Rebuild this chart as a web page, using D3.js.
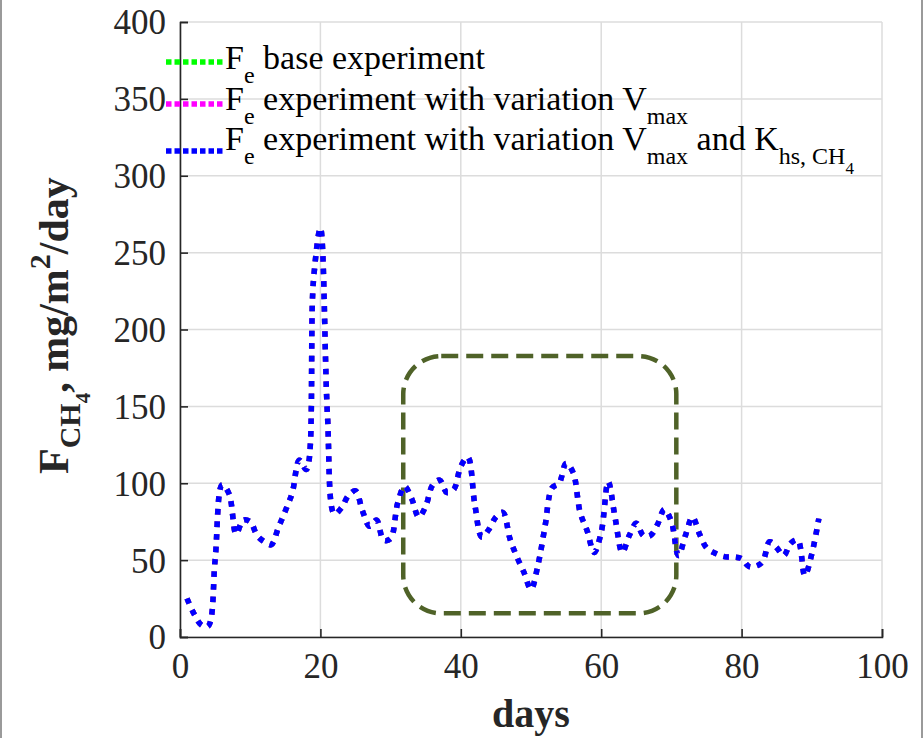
<!DOCTYPE html>
<html><head><meta charset="utf-8">
<script src="https://cdn.jsdelivr.net/npm/d3@7/dist/d3.min.js"></script>
<style>body{margin:0;background:#fff}svg{display:block}</style>
</head><body>
<svg id="chart" width="924" height="738"></svg>
<script>
// ---- data ----
const days = [1,2,3,4,5,6,7,8,9,10,11,12,13,14,15,16,17,18,19,20,
  21,22,23,24,25,26,27,28,29,30,31,32,33,34,35,36,37,38,39,40,
  41,42,43,44,45,46,47,48,49,50,51,52,53,54,55,56,57,58,59,60,
  61,62,63,64,65,66,67,68,69,70,71,72,73,74,75,76,77,78,79,80,
  81,82,83,84,85,86,87,88,89,90,91];
const fluxVmaxKhs = [25,15,8,7,50,99,93,67,76,75,66,62,60,71,82,94,115,109,231,266,
  145,80,84,92,95,82,72,76,63,64,87,98,90,78,85,99,102,94,96,111,
  117,86,65,70,78,81,64,52,42,31,47,72,97,100,113,107,81,69,55,68,
  101,77,55,66,74,66,66,73,83,75,53,66,78,67,58,55,53,52,52,51,
  46,46,49,62,58,53,61,63,40,54,77];
// the base and V_max experiments coincide with the blue curve (hidden beneath it)
const fluxBase = fluxVmaxKhs;
const fluxVmax = fluxVmaxKhs;
const xTicks = [0,20,40,60,80,100];
const yTicks = [0,50,100,150,200,250,300,350,400];
const highlight = {x0: 31.8, x1: 70.7, y0: 15.4, y1: 182.7}; // annotation box, data units

// ---- layout ----
const svg = d3.select('#chart');
const L = 180, R = 882, T = 22, B = 637;
const x = d3.scaleLinear().domain([0,100]).range([L,R]);
const y = d3.scaleLinear().domain([0,400]).range([B,T]);
const axisCol = '#262626';
const serif = "'Liberation Serif','Times New Roman',serif";

svg.append('rect').attr('width',924).attr('height',738).attr('fill','#fff');
// outer grey frame edges
svg.append('line').attr('x1',1).attr('x2',1).attr('y1',0).attr('y2',738).attr('stroke','#9a9a9a').attr('stroke-width',2);
svg.append('line').attr('x1',922).attr('x2',922).attr('y1',0).attr('y2',738).attr('stroke','#9a9a9a').attr('stroke-width',2);

// grid
const g = svg.append('g');
g.selectAll('.gx').data(xTicks).join('line')
  .attr('x1',d=>x(d)).attr('x2',d=>x(d)).attr('y1',T).attr('y2',B)
  .attr('stroke','#dcdcdc').attr('stroke-width',1.5);
g.selectAll('.gy').data(yTicks).join('line')
  .attr('y1',d=>y(d)).attr('y2',d=>y(d)).attr('x1',L).attr('x2',R)
  .attr('stroke','#dcdcdc').attr('stroke-width',1.5);

// axes via d3 axis
const xAxis = d3.axisBottom(x).tickValues(xTicks).tickSize(-8).tickPadding(16).tickFormat(d3.format('d'));
const yAxis = d3.axisLeft(y).tickValues(yTicks).tickSize(-8).tickPadding(14).tickFormat(d3.format('d'));
const gx = svg.append('g').attr('transform',`translate(0,${B})`).call(xAxis);
const gy = svg.append('g').attr('transform',`translate(${L},0)`).call(yAxis);
[gx,gy].forEach(a=>{
  a.select('.domain').attr('stroke',axisCol).attr('stroke-width',1.6);
  a.selectAll('.tick line').attr('stroke',axisCol).attr('stroke-width',1.6);
  a.selectAll('.tick text').attr('fill',axisCol).attr('font-family',serif).attr('font-size',35);
});
gx.selectAll('.tick text').attr('dy','0.71em');
gy.selectAll('.tick text').attr('dy','0.34em');

// highlight rounded box
svg.append('rect')
  .attr('x',x(highlight.x0)).attr('y',y(highlight.y1))
  .attr('width',x(highlight.x1)-x(highlight.x0)).attr('height',y(highlight.y0)-y(highlight.y1))
  .attr('rx',38).attr('ry',38)
  .attr('fill','none').attr('stroke','#4f6228').attr('stroke-width',4.5)
  .attr('stroke-dasharray','17 8');

// lines
const line = d3.line().x((d,i)=>x(days[i])).y(d=>y(d)).curve(d3.curveCatmullRom.alpha(0.5));
const series = [
  {vals: fluxBase, color:'#00ff00'},
  {vals: fluxVmax, color:'#ff00ff'},
  {vals: fluxVmaxKhs, color:'#0000ff'}
];
series.forEach(s=>{
  svg.append('path').datum(s.vals).attr('d',line)
    .attr('fill','none').attr('stroke',s.color).attr('stroke-width',5.5)
    .attr('stroke-dasharray','5.5 7');
});

// legend
const legY = [62,104,151];
const legBase = [69,110,150];
series.forEach((s,i)=>{
  svg.append('line').attr('x1',166).attr('x2',223).attr('y1',legY[i]).attr('y2',legY[i])
    .attr('stroke',s.color).attr('stroke-width',5.5).attr('stroke-dasharray','5.5 3');
});
function legText(i, parts){
  const t = svg.append('text').attr('x',225).attr('y',legBase[i])
    .attr('font-family',serif).attr('font-size',34).attr('fill','#000');
  parts.forEach(p=>{
    const ts = t.append('tspan').text(p.t);
    if(p.size) ts.attr('font-size',p.size);
    if(p.dy) ts.attr('dy',p.dy);
  });
}
legText(0,[{t:'F'},{t:'e',size:24,dy:14},{t:' base experiment',dy:-14}]);
legText(1,[{t:'F'},{t:'e',size:24,dy:14},{t:' experiment with variation V',dy:-14},{t:'max',size:24,dy:14}]);
legText(2,[{t:'F'},{t:'e',size:24,dy:14},{t:' experiment with variation V',dy:-14},{t:'max',size:24,dy:14},
  {t:' and K',dy:-14},{t:'hs, CH',size:24,dy:14},{t:'4',size:17,dy:10}]);

// axis titles
svg.append('text').attr('x',531).attr('y',727).attr('text-anchor','middle')
  .attr('font-family',serif).attr('font-weight','bold').attr('font-size',40).attr('fill',axisCol).text('days');
const yl = svg.append('text').attr('transform','translate(68,474) rotate(-90)')
  .attr('font-family',serif).attr('font-weight','bold').attr('font-size',42).attr('fill',axisCol);
yl.append('tspan').text('F');
yl.append('tspan').text('CH').attr('font-size',30).attr('dy',12);
yl.append('tspan').text('4').attr('font-size',21).attr('dy',10);
yl.append('tspan').text(', mg/m').attr('dy',-22);
yl.append('tspan').text('2').attr('font-size',30).attr('dy',-18);
yl.append('tspan').text('/day').attr('dy',18);
</script>
</body></html>
